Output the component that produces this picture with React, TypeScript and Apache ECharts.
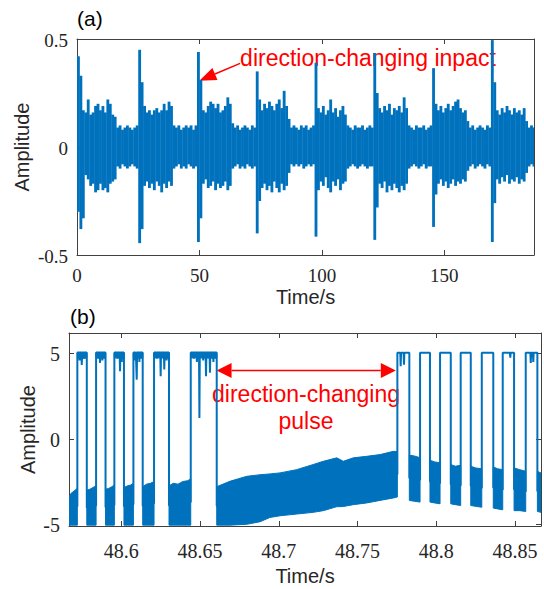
import React, { useEffect, useRef } from 'react';
import * as echarts from 'echarts';

const BLUE = '#0072BD';
const RED = '#FF0000';
const INK = '#262626';
const BOX = '#404040';
const SERIF = "'Liberation Serif', 'Times New Roman', 'DejaVu Serif', serif";
const SANS = 'Liberation Sans';

// ---------- (a) vibration signal: upper / lower envelope, one value per second (t = 0..186 s)
const aUpper = [
  0.42, 0.33, 0.17, 0.16, 0.22, 0.15, 0.16, 0.19, 0.20, 0.17,
  0.19, 0.16, 0.22, 0.20, 0.15, 0.14, 0.09, 0.10, 0.08, 0.09,
  0.10, 0.09, 0.08, 0.09, 0.10, 0.45, 0.30, 0.19, 0.16, 0.17,
  0.15, 0.17, 0.18, 0.16, 0.17, 0.20, 0.17, 0.21, 0.19, 0.10,
  0.09, 0.10, 0.08, 0.09, 0.10, 0.09, 0.10, 0.08, 0.10, 0.44,
  0.31, 0.17, 0.16, 0.19, 0.21, 0.20, 0.18, 0.20, 0.16, 0.17,
  0.19, 0.23, 0.20, 0.11, 0.09, 0.10, 0.08, 0.09, 0.10, 0.09,
  0.08, 0.10, 0.09, 0.35, 0.22, 0.17, 0.20, 0.18, 0.21, 0.19,
  0.17, 0.20, 0.22, 0.18, 0.26, 0.19, 0.13, 0.09, 0.10, 0.09,
  0.08, 0.10, 0.09, 0.10, 0.08, 0.09, 0.10, 0.39, 0.18, 0.16,
  0.19, 0.15, 0.17, 0.22, 0.16, 0.18, 0.14, 0.17, 0.19, 0.15,
  0.10, 0.09, 0.08, 0.10, 0.09, 0.09, 0.10, 0.08, 0.09, 0.10,
  0.09, 0.435, 0.25, 0.18, 0.16, 0.19, 0.17, 0.20, 0.15, 0.18,
  0.17, 0.19, 0.16, 0.23, 0.18, 0.10, 0.09, 0.08, 0.10, 0.09,
  0.09, 0.10, 0.08, 0.09, 0.10, 0.365, 0.20, 0.17, 0.19, 0.16,
  0.18, 0.20, 0.17, 0.19, 0.21, 0.22, 0.18, 0.16, 0.17, 0.12,
  0.09, 0.10, 0.08, 0.09, 0.10, 0.09, 0.08, 0.10, 0.09, 0.495,
  0.30, 0.17, 0.15, 0.18, 0.16, 0.19, 0.17, 0.15, 0.18, 0.16,
  0.17, 0.15, 0.18, 0.12, 0.09, 0.10, 0.09,
];
const aLower = [
  -0.30, -0.38, -0.33, -0.13, -0.15, -0.18, -0.17, -0.21, -0.20, -0.17,
  -0.20, -0.19, -0.21, -0.17, -0.16, -0.15, -0.09, -0.10, -0.08, -0.09,
  -0.10, -0.09, -0.08, -0.09, -0.10, -0.445, -0.38, -0.18, -0.16, -0.19,
  -0.17, -0.20, -0.16, -0.18, -0.21, -0.17, -0.19, -0.16, -0.18, -0.10,
  -0.09, -0.08, -0.10, -0.09, -0.10, -0.08, -0.09, -0.10, -0.09, -0.44,
  -0.33, -0.17, -0.15, -0.19, -0.18, -0.16, -0.20, -0.17, -0.19, -0.18,
  -0.16, -0.20, -0.18, -0.10, -0.09, -0.08, -0.10, -0.09, -0.10, -0.08,
  -0.09, -0.10, -0.09, -0.40, -0.25, -0.19, -0.17, -0.20, -0.18, -0.21,
  -0.16, -0.19, -0.21, -0.17, -0.20, -0.18, -0.12, -0.08, -0.09, -0.08,
  -0.09, -0.08, -0.10, -0.09, -0.08, -0.09, -0.08, -0.415, -0.20, -0.16,
  -0.18, -0.14, -0.19, -0.21, -0.16, -0.18, -0.15, -0.20, -0.17, -0.16,
  -0.10, -0.09, -0.08, -0.09, -0.10, -0.09, -0.08, -0.09, -0.10, -0.09,
  -0.09, -0.43, -0.28, -0.17, -0.19, -0.16, -0.21, -0.18, -0.20, -0.17,
  -0.19, -0.21, -0.18, -0.20, -0.17, -0.10, -0.09, -0.08, -0.09, -0.10,
  -0.09, -0.08, -0.10, -0.09, -0.09, -0.37, -0.22, -0.17, -0.15, -0.18,
  -0.16, -0.19, -0.17, -0.15, -0.18, -0.16, -0.17, -0.15, -0.16, -0.11,
  -0.09, -0.08, -0.10, -0.09, -0.08, -0.09, -0.10, -0.08, -0.09, -0.44,
  -0.26, -0.15, -0.17, -0.14, -0.16, -0.13, -0.17, -0.15, -0.16, -0.14,
  -0.17, -0.15, -0.16, -0.12, -0.09, -0.08, -0.09,
];
const aXMin = 0;
const aXMax = 186.6;
const aYMin = -0.5;
const aYMax = 0.5;
const aXTicks = [0, 50, 100, 150];
const aYTicks = [-0.5, 0, 0.5];

// ---------- (b) pulse signal
const bXMin = 48.5668;
const bXMax = 48.8665;
const bYMin = -5.1;
const bYMax = 6.2;
const bXTicks = [48.6, 48.65, 48.7, 48.75, 48.8, 48.85];
const bYTicks = [-5, 0, 5];
const bHigh = 5.05;
const bRise = [48.5721, 48.584, 48.5956, 48.6077, 48.6208, 48.6441, 48.7753, 48.7897, 48.8024, 48.8155, 48.8289, 48.8422, 48.8568];
const bFall = [48.5781, 48.59, 48.6017, 48.6136, 48.6303, 48.6606, 48.7829, 48.796, 48.8092, 48.8219, 48.8362, 48.8494, 48.8642];
const bDipTime = [
  48.5735, 48.5749, 48.5762, 48.5855, 48.5865, 48.588, 48.5975, 48.5992, 48.6003,
  48.609, 48.6098, 48.6115, 48.6225, 48.625, 48.6273, 48.6288,
  48.646, 48.648, 48.6496, 48.652, 48.6538, 48.6563, 48.6585,
  48.7774, 48.7795, 48.847, 48.86, 48.8616,
];
const bDipValue = [
  4.6, 4.33, 4.7, 4.7, 4.45, 4.6, 4.7, 3.96, 4.5,
  4.6, 3.47, 4.5, 4.7, 3.67, 4.06, 4.6,
  4.7, 4.5, 1.23, 4.6, 3.67, 3.87, 4.5,
  4.25, 4.35, 4.75, 4.45, 4.5,
];
// dense bands (low level noise and noisy tops), segments separated by null
const bBandTime = [
  48.5668, 48.568, 48.57, 48.5721, null,
  48.5781, 48.58, 48.582, 48.584, null,
  48.59, 48.592, 48.594, 48.5956, null,
  48.6017, 48.604, 48.606, 48.6077, null,
  48.6136, 48.616, 48.6185, 48.6208, null,
  48.6303, 48.633, 48.636, 48.639, 48.642, 48.6441, null,
  48.6606, 48.669, 48.6797, 48.6881, 48.6944, 48.7008, 48.7114, 48.7219, 48.7283, 48.7368, 48.741, 48.7473, 48.7558, 48.7643, 48.7727, 48.7753, null,
  48.7829, 48.786, 48.7897, null,
  48.796, 48.799, 48.8024, null,
  48.8092, 48.812, 48.8155, null,
  48.8219, 48.825, 48.8289, null,
  48.8362, 48.839, 48.8422, null,
  48.8494, 48.853, 48.8568, null,
  48.8642, 48.8665, null,
  48.5721, 48.5781, null,
  48.584, 48.59, null,
  48.5956, 48.6017, null,
  48.6077, 48.6136, null,
  48.6208, 48.6303, null,
  48.6441, 48.6606,
];
const bBandUpper = [
  -3.5, -3.2, -3.05, -2.9, null,
  -3.0, -2.95, -2.85, -2.75, null,
  -2.95, -2.9, -2.8, -2.7, null,
  -2.85, -2.75, -2.7, -2.6, null,
  -2.8, -2.65, -2.6, -2.5, null,
  -2.75, -2.6, -2.65, -2.5, -2.45, -2.35, null,
  -2.8, -2.48, -2.19, -2.1, -2.05, -1.99, -1.8, -1.5, -1.31, -1.11, -1.31, -1.11, -1.02, -0.92, -0.73, -0.74, null,
  -0.95, -1.0, -1.1, null,
  -1.25, -1.35, -1.4, null,
  -1.5, -1.6, -1.55, null,
  -1.6, -1.7, -1.75, null,
  -1.65, -1.75, -1.8, null,
  -1.7, -1.8, -1.9, null,
  -1.9, -2.0, null,
  5.08, 5.08, null,
  5.08, 5.08, null,
  5.08, 5.08, null,
  5.08, 5.08, null,
  5.08, 5.08, null,
  5.08, 5.08,
];
const bBandLower = [
  -5.05, -5.05, -5.05, -5.05, null,
  -5.05, -5.05, -5.05, -5.05, null,
  -5.05, -5.05, -5.05, -5.05, null,
  -5.05, -5.05, -5.05, -5.05, null,
  -5.05, -5.05, -5.05, -5.05, null,
  -5.05, -5.05, -5.05, -5.05, -5.05, -5.05, null,
  -5.05, -5.05, -5.0, -4.85, -4.6, -4.5, -4.4, -4.3, -4.2, -3.97, -3.96, -3.85, -3.75, -3.6, -3.46, -3.4, null,
  -3.6, -3.65, -3.7, null,
  -3.7, -3.75, -3.8, null,
  -3.8, -3.85, -3.9, null,
  -3.9, -3.95, -4.0, null,
  -4.05, -4.1, -4.15, null,
  -4.2, -4.2, -4.25, null,
  -4.25, -4.3, null,
  4.75, 4.72, null,
  4.75, 4.72, null,
  4.75, 4.72, null,
  4.75, 4.72, null,
  4.75, 4.72, null,
  4.75, 4.72,
];

// annotation anchors (data coordinates)
const aLabelAnchor = [66.6, 0.412];
const aArrowTail = [66.6, 0.387];
const aArrowTip = [49.94, 0.307];
const bLabelAnchor = [48.7173, 1.82];
const bArrowLeft = [48.6605, 4.0];
const bArrowRight = [48.7743, 4.0];

type Seg = { t: number[]; hi: number[]; lo: number[] };
function splitBands(): Seg[] {
  const segs: Seg[] = [];
  let cur: Seg = { t: [], hi: [], lo: [] };
  bBandTime.forEach((t, i) => {
    if (t === null) {
      if (cur.t.length) segs.push(cur);
      cur = { t: [], hi: [], lo: [] };
    } else {
      cur.t.push(t as number);
      cur.hi.push(bBandUpper[i] as number);
      cur.lo.push(bBandLower[i] as number);
    }
  });
  if (cur.t.length) segs.push(cur);
  return segs;
}

function arrowHead(tip: number[], tail: number[], L: number, W: number) {
  const dx = tip[0] - tail[0];
  const dy = tip[1] - tail[1];
  const len = Math.hypot(dx, dy);
  const ux = dx / len, uy = dy / len;
  const nx = -uy, ny = ux;
  const bx = tip[0] - ux * L, by = tip[1] - uy * L;
  return {
    base: [bx, by],
    points: [tip, [bx + nx * W / 2, by + ny * W / 2], [bx - nx * W / 2, by - ny * W / 2]],
  };
}

const fmtPlain = (v: number) => String(parseFloat(Number(v).toFixed(3)));
const nameStyle = { fontFamily: SANS, fontSize: 20, color: INK };
const axisLine = { show: true, onZero: false, lineStyle: { color: BOX, width: 1 } };
const tick = (vals: number[]) => ({ inside: true, length: 5, customValues: vals, lineStyle: { color: BOX } });
const noLabel = (vals: number[]) => ({ show: false, customValues: vals });

export default function App() {
  const ref = useRef<HTMLDivElement>(null);

  useEffect(() => {
    if (!ref.current) return;
    const chart = echarts.init(ref.current, null, { renderer: 'svg' });

    const aData = aUpper.map((hi, i) => [i, aLower[i], hi]);

    const segs = splitBands();
    const midAt = (t: number) => {
      let best = segs[0], bj = 0, bd = Infinity;
      segs.forEach((s) => s.t.forEach((tt, j) => {
        const d = Math.abs(tt - t);
        if (s.hi[j] < 0 && d < bd) { bd = d; best = s; bj = j; }
      }));
      return (best.hi[bj] + best.lo[bj]) / 2;
    };
    const pulse: number[][] = [];
    const dw = 0.00025;
    bRise.forEach((r, i) => {
      const f = bFall[i];
      pulse.push([r, midAt(r)]);
      pulse.push([r, bHigh]);
      bDipTime.forEach((dt, k) => {
        if (dt > r && dt < f) {
          pulse.push([dt - dw, bHigh]);
          pulse.push([dt, bDipValue[k]]);
          pulse.push([dt + dw, bHigh]);
        }
      });
      pulse.push([f, bHigh]);
      pulse.push([f, midAt(f)]);
    });

    const option: any = {
      animation: false,
      grid: [
        { left: 77, top: 39, width: 457, height: 216, outerBoundsMode: 'none' },
        { left: 69, top: 333, width: 472, height: 193, outerBoundsMode: 'none' },
      ],
      xAxis: [
        {
          type: 'value', gridIndex: 0, min: aXMin, max: aXMax,
          axisLine, splitLine: { show: false }, axisTick: tick(aXTicks), axisLabel: noLabel(aXTicks),
          name: 'Time/s', nameLocation: 'middle', nameGap: 32, nameMoveOverlap: false, nameTextStyle: nameStyle,
        },
        {
          type: 'value', gridIndex: 0, position: 'top', min: aXMin, max: aXMax,
          axisLine, splitLine: { show: false }, axisTick: tick(aXTicks), axisLabel: noLabel(aXTicks),
        },
        {
          type: 'value', gridIndex: 1, min: bXMin, max: bXMax,
          axisLine, splitLine: { show: false }, axisTick: tick(bXTicks), axisLabel: noLabel(bXTicks),
          name: 'Time/s', nameLocation: 'middle', nameGap: 40, nameMoveOverlap: false, nameTextStyle: nameStyle,
        },
        {
          type: 'value', gridIndex: 1, position: 'top', min: bXMin, max: bXMax,
          axisLine, splitLine: { show: false }, axisTick: tick(bXTicks), axisLabel: noLabel(bXTicks),
        },
      ],
      yAxis: [
        {
          type: 'value', gridIndex: 0, min: aYMin, max: aYMax,
          axisLine, splitLine: { show: false }, axisTick: tick(aYTicks), axisLabel: noLabel(aYTicks),
          name: 'Amplitude', nameLocation: 'middle', nameGap: 45, nameMoveOverlap: false, nameTextStyle: nameStyle,
        },
        {
          type: 'value', gridIndex: 0, position: 'right', min: aYMin, max: aYMax,
          axisLine, splitLine: { show: false }, axisTick: tick(aYTicks), axisLabel: noLabel(aYTicks),
        },
        {
          type: 'value', gridIndex: 1, min: bYMin, max: bYMax,
          axisLine, splitLine: { show: false }, axisTick: tick(bYTicks), axisLabel: noLabel(bYTicks),
          name: 'Amplitude', nameLocation: 'middle', nameGap: 31, nameMoveOverlap: false, nameTextStyle: nameStyle,
        },
        {
          type: 'value', gridIndex: 1, position: 'right', min: bYMin, max: bYMax,
          axisLine, splitLine: { show: false }, axisTick: tick(bYTicks), axisLabel: noLabel(bYTicks),
        },
      ],
      series: [
        {
          type: 'custom', xAxisIndex: 0, yAxisIndex: 0, clip: true, silent: true,
          data: aData,
          encode: { x: 0, y: [1, 2] },
          renderItem: (_p: any, api: any) => {
            const t = api.value(0);
            const p0 = api.coord([t, api.value(2)]);
            const p1 = api.coord([t + 1, api.value(1)]);
            return {
              type: 'rect',
              shape: { x: p0[0], y: p0[1], width: p1[0] - p0[0] + 0.4, height: p1[1] - p0[1] },
              style: { fill: BLUE },
            };
          },
        },
        {
          type: 'custom', xAxisIndex: 2, yAxisIndex: 2, clip: true, silent: true,
          data: segs.map((s, k) => [s.t[0], s.hi[0], k]),
          encode: { x: 0, y: 1 },
          renderItem: (_p: any, api: any) => {
            const s = segs[api.value(2)];
            const pts: number[][] = [];
            s.t.forEach((t, j) => pts.push(api.coord([t, s.hi[j]])));
            for (let j = s.t.length - 1; j >= 0; j--) pts.push(api.coord([s.t[j], s.lo[j]]));
            return {
              type: 'polygon',
              shape: { points: pts },
              style: { fill: BLUE, stroke: BLUE, lineWidth: 1 },
            };
          },
        },
        {
          type: 'line', xAxisIndex: 2, yAxisIndex: 2, data: pulse,
          symbol: 'none', showSymbol: false, clip: true, silent: true,
          lineStyle: { color: BLUE, width: 2 },
        },
      ],
    };
    chart.setOption(option);

    const pa = (p: number[]) => chart.convertToPixel({ xAxisIndex: 0, yAxisIndex: 0 }, p) as number[];
    const pb = (p: number[]) => chart.convertToPixel({ seriesIndex: 2 }, p) as number[];

    // tick labels
    const tickTexts: any[] = [];
    const addX = (vals: number[], conv: (p: number[]) => number[], yMin: number, off: number, size: number) => {
      vals.forEach((v) => {
        const p = conv([v, yMin]);
        tickTexts.push({
          type: 'text', x: p[0], y: p[1] + off, silent: true,
          style: { text: fmtPlain(v), font: `${size}px ${SERIF}`, fill: INK, align: 'center', verticalAlign: 'middle' },
        });
      });
    };
    const addY = (vals: number[], conv: (p: number[]) => number[], xMin: number, off: number, size: number) => {
      vals.forEach((v) => {
        const p = conv([xMin, v]);
        tickTexts.push({
          type: 'text', x: p[0] - off, y: p[1] + 1, silent: true,
          style: { text: fmtPlain(v), font: `${size}px ${SERIF}`, fill: INK, align: 'right', verticalAlign: 'middle' },
        });
      });
    };
    addX(aXTicks, pa, aYMin, 20, 19);
    addY(aYTicks, pa, aXMin, 9, 19);
    addX(bXTicks, pb, bYMin, 25, 20);
    addY(bYTicks, pb, bXMin, 9, 20);

    const aTip = pa(aArrowTip);
    const aTail = pa(aArrowTail);
    const aHead = arrowHead(aTip, aTail, 17, 13);
    const aLab = pa(aLabelAnchor);

    const bL = pb(bArrowLeft);
    const bR = pb(bArrowRight);
    const hL = arrowHead(bL, bR, 15, 15);
    const hR = arrowHead(bR, bL, 15, 15);
    const bLab = pb(bLabelAnchor);

    const annoFont = { fontFamily: SANS, fontSize: 23, fill: RED };
    const panelFont = { fontFamily: SANS, fontSize: 21, fill: '#000' };

    chart.setOption({
      graphic: [
        ...tickTexts,
        { type: 'text', x: 77, y: 18, style: { ...panelFont, text: '(a)', align: 'left', verticalAlign: 'middle' } },
        { type: 'text', x: 70, y: 316, style: { ...panelFont, text: '(b)', align: 'left', verticalAlign: 'middle' } },
        {
          type: 'text', x: aLab[0], y: aLab[1],
          style: { ...annoFont, text: 'direction-changing inpact', align: 'left', verticalAlign: 'middle' },
        },
        {
          type: 'line',
          shape: { x1: aTail[0], y1: aTail[1], x2: aHead.base[0], y2: aHead.base[1] },
          style: { stroke: RED, lineWidth: 1.5 },
        },
        { type: 'polygon', shape: { points: aHead.points }, style: { fill: RED } },
        {
          type: 'line',
          shape: { x1: hL.base[0], y1: hL.base[1], x2: hR.base[0], y2: hR.base[1] },
          style: { stroke: RED, lineWidth: 1.5 },
        },
        { type: 'polygon', shape: { points: hL.points }, style: { fill: RED } },
        { type: 'polygon', shape: { points: hR.points }, style: { fill: RED } },
        {
          type: 'text', x: bLab[0], y: bLab[1],
          style: {
            ...annoFont, text: 'direction-changing\npulse', align: 'center', verticalAlign: 'middle',
            lineHeight: 27,
          },
        },
      ],
    });

    return () => chart.dispose();
  }, []);

  return (
    <div
      ref={ref}
      style={{ position: 'fixed', left: 0, top: 0, width: 544, height: 589, background: '#fff' }}
    />
  );
}
